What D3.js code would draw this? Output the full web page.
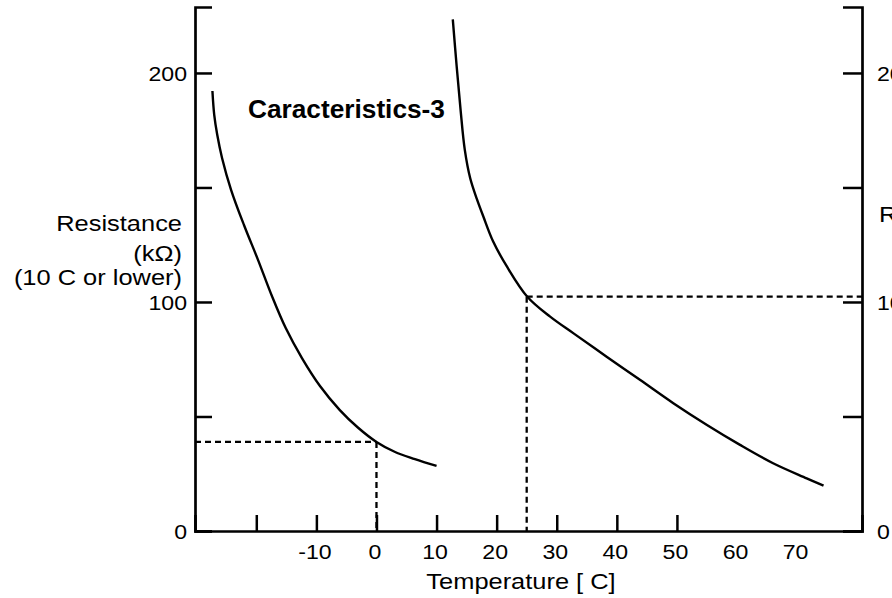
<!DOCTYPE html>
<html>
<head>
<meta charset="utf-8">
<script src="https://cdn.jsdelivr.net/npm/d3@7"></script>
<style>
  html, body { margin: 0; padding: 0; background: #fff; overflow: hidden; }
  svg { display: block; }
  text { font-family: "Liberation Sans", Arial, Helvetica, sans-serif; fill: #000; }
</style>
</head>
<body>
<svg id="chart" width="892" height="598"></svg>
<script>
// ---- data ----
const chartTitle = "Caracteristics-3";
const xTickValues = [-20, -10, 0, 10, 20, 30, 40, 50, 60, 70];
const xTickMarks = [-20, -10, 0, 10, 20, 30, 40, 50];
const leftTickValues = [0, 50, 100, 150, 200];
const leftTickLabels = ["0", "", "100", "", "200"];
const rightTickValues = [0, 5, 10, 15, 20];
const rightTickLabels = ["0", "", "10", "", "20"];
const xAxisTitle = "Temperature [ C]";
const leftAxisTitle = ["Resistance", "(kΩ)", "(10 C or lower)"];
const rightAxisTitle = "Resistance";

// low-temperature curve (left axis, kΩ)
const lowTemp = [-27.3, -27.0, -26.5, -25.7, -24.2, -22.05, -19.7, -17.4, -15.1, -12.4, -9.4, -6.1, -3.1, 0.0, 3.1, 6.4, 10.0];
const lowRes  = [192.1, 181.7, 173.0, 162.9, 149.0, 133.6, 118.3, 102.6, 88.6, 75.5, 63.3, 52.8, 45.2, 38.9, 34.5, 31.4, 28.4];

// high-temperature curve (right axis, kΩ)
const highTemp = [12.7, 13.35, 14.0, 14.7, 15.6, 16.7, 17.8, 19.4, 21.7, 25.1, 28.9, 32.8, 38.3, 43.9, 49.4, 55.0, 60.5, 66.0, 71.6, 74.4];
const highRes  = [22.34, 20.28, 18.38, 16.64, 15.40, 14.50, 13.72, 12.65, 11.55, 10.23, 9.36, 8.63, 7.61, 6.59, 5.58, 4.63, 3.76, 2.96, 2.30, 1.98];

// reference points (dashed guides)
const refLow = { t: 0, r: 38.9 };
const refHigh = { t: 25, r: 10.23 };

// ---- layout ----
const svg = d3.select("#chart");
const plot = { left: 195, right: 862, top: 7, bottom: 531 };
const stretch = 1.13;
const tickFont = 21;
const tickStretch = 1.1;

const x = d3.scaleLinear().domain([-30.2, 80.8]).range([plot.left, plot.right]);
const yL = d3.scaleLinear().domain([0, 228.8]).range([plot.bottom, plot.top]);
const yR = d3.scaleLinear().domain([0, 22.88]).range([plot.bottom, plot.top]);

// axes
const xAxis = d3.axisBottom(x).tickValues(xTickValues).tickSizeOuter(0).tickSize(-16)
  .tickFormat(d => d === -20 ? "" : d);
const gx = svg.append("g").attr("transform", `translate(0,${plot.bottom})`).call(xAxis);
gx.selectAll(".tick line").attr("y2", d => xTickMarks.includes(d) ? -16 : 0);
gx.selectAll(".tick text").attr("y", 0).attr("dy", 0)
  .attr("transform", `translate(-2,28) scale(${tickStretch},1)`)
  .style("font-size", tickFont + "px");

const leftAxis = d3.axisLeft(yL).tickValues(leftTickValues).tickSizeOuter(0).tickSize(-17)
  .tickFormat((d, i) => leftTickLabels[i]);
const gl = svg.append("g").attr("transform", `translate(${plot.left},0)`).call(leftAxis);
gl.selectAll(".tick text").attr("x", 0).attr("dy", "0.36em")
  .attr("transform", `translate(-8,0) scale(${tickStretch},1)`)
  .style("font-size", tickFont + "px");

const rightAxis = d3.axisRight(yR).tickValues(rightTickValues).tickSizeOuter(0).tickSize(-19)
  .tickFormat((d, i) => rightTickLabels[i]);
const gr = svg.append("g").attr("transform", `translate(${plot.right},0)`).call(rightAxis);
gr.selectAll(".tick text").attr("x", 0).attr("dy", "0.36em")
  .attr("transform", `translate(15,0) scale(${tickStretch},1)`)
  .style("font-size", tickFont + "px");

[gx, gl, gr].forEach(g => {
  g.select(".domain").attr("stroke", "#000").attr("stroke-width", 2.7);
  g.selectAll(".tick line").attr("stroke", "#000").attr("stroke-width", 2.5);
  g.attr("font-family", null).attr("font-size", null);
});

// dashed guides
const dash = "6,4";
const guides = svg.append("g").attr("stroke", "#000").attr("stroke-width", 2.3)
  .attr("stroke-dasharray", dash).attr("fill", "none");
guides.append("line").attr("x1", plot.left).attr("x2", x(refLow.t))
  .attr("y1", yL(refLow.r)).attr("y2", yL(refLow.r));
guides.append("line").attr("x1", x(refLow.t)).attr("x2", x(refLow.t))
  .attr("y1", yL(refLow.r)).attr("y2", plot.bottom);
guides.append("line").attr("x1", x(refHigh.t)).attr("x2", plot.right)
  .attr("y1", yR(refHigh.r)).attr("y2", yR(refHigh.r));
guides.append("line").attr("x1", x(refHigh.t)).attr("x2", x(refHigh.t))
  .attr("y1", yR(refHigh.r)).attr("y2", plot.bottom);

// curves
const lowData = lowTemp.map((t, i) => [t, lowRes[i]]);
const highData = highTemp.map((t, i) => [t, highRes[i]]);
const lineL = d3.line().x(d => x(d[0])).y(d => yL(d[1])).curve(d3.curveCatmullRom.alpha(0.5));
const lineR = d3.line().x(d => x(d[0])).y(d => yR(d[1])).curve(d3.curveCatmullRom.alpha(0.5));
svg.append("path").datum(lowData).attr("d", lineL)
  .attr("fill", "none").attr("stroke", "#000").attr("stroke-width", 2.4);
svg.append("path").datum(highData).attr("d", lineR)
  .attr("fill", "none").attr("stroke", "#000").attr("stroke-width", 2.4);

// texts
function label(str, px, py, anchor, size, weight, sx) {
  return svg.append("text").text(str)
    .attr("transform", `translate(${px},${py}) scale(${sx},1)`)
    .attr("text-anchor", anchor)
    .style("font-size", size + "px")
    .style("font-weight", weight);
}
label(chartTitle, 248, 118, "start", 25, "bold", 1.05);
label(xAxisTitle, 521, 589, "middle", 22.5, "normal", stretch);
const leftTitleY = [231, 261, 285];
leftAxisTitle.forEach((s, i) => label(s, 182, leftTitleY[i], "end", 22.5, "normal", stretch));
label(rightAxisTitle, 879, 222, "start", 22.5, "normal", stretch);
</script>
</body>
</html>
